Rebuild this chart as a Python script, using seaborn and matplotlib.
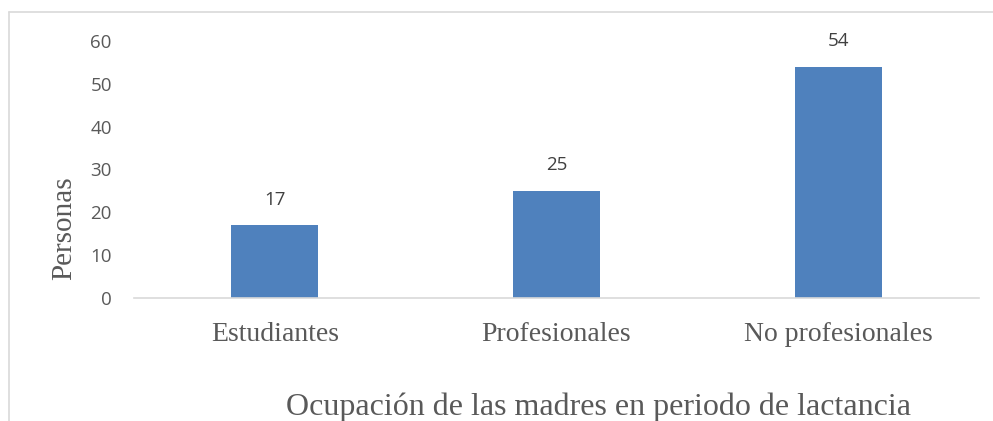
import matplotlib
matplotlib.use("Agg")
import matplotlib.pyplot as plt
import seaborn as sns
import pandas as pd
from matplotlib.lines import Line2D

categorias = ["Estudiantes", "Profesionales", "No profesionales"]
personas = [17, 25, 54]
yticks = [0, 10, 20, 30, 40, 50, 60]

df = pd.DataFrame({"cat": categorias, "val": personas})

sns.set_theme(style="white")
plt.rcParams["font.family"] = ["Open Sans", "DejaVu Sans"]

W, H = 993, 421
fig = plt.figure(figsize=(W / 100, H / 100), dpi=100)
ax = fig.add_axes([134 / W, 123 / H, (979 - 134) / W, 257 / H])

sns.barplot(data=df, x="cat", y="val", color="#4F81BD", width=0.31,
            saturation=1, ax=ax, edgecolor="none")

ax.set_xlim(-0.5, 2.5)
ax.set_ylim(0, 60)
ax.set_yticks(yticks)
ax.set_yticklabels([str(t) for t in yticks], fontsize=13.5, color="#595959",
                   family=["Open Sans", "DejaVu Sans"])
ax.tick_params(axis="y", length=0, pad=16)
ax.tick_params(axis="x", length=0, pad=17)
for lab in ax.get_xticklabels():
    lab.set_fontfamily("Liberation Serif")
    lab.set_fontsize(20)
    lab.set_color("#595959")

for s in ["left", "right", "top"]:
    ax.spines[s].set_visible(False)
ax.spines["bottom"].set_color("#D9D9D9")
ax.spines["bottom"].set_linewidth(1.2)
ax.set_xlabel("")
ax.set_ylabel("")

for i, v in enumerate(personas):
    ax.annotate(str(v), (i, v), xytext=(0, 12), textcoords="offset points",
                ha="center", va="bottom", fontsize=13.5, color="#404040")

fig.text(64 / W, 1 - 228 / H, "Personas", rotation=90, ha="center", va="center",
         fontsize=21, color="#595959", family="Liberation Serif")
fig.text(599 / W, (H - 415) / H, "Ocupación de las madres en periodo de lactancia",
         ha="center", va="baseline", fontsize=23, color="#595959",
         family="Liberation Serif")

# chart-area border (left and top visible)
fig.add_artist(Line2D([9 / W, 9 / W], [0, 1 - 12 / H], transform=fig.transFigure,
                      color="#D9D9D9", lw=1.2))
fig.add_artist(Line2D([9 / W, 1], [1 - 12 / H, 1 - 12 / H], transform=fig.transFigure,
                      color="#D9D9D9", lw=1.2))

fig.savefig("out.png", dpi=100)
